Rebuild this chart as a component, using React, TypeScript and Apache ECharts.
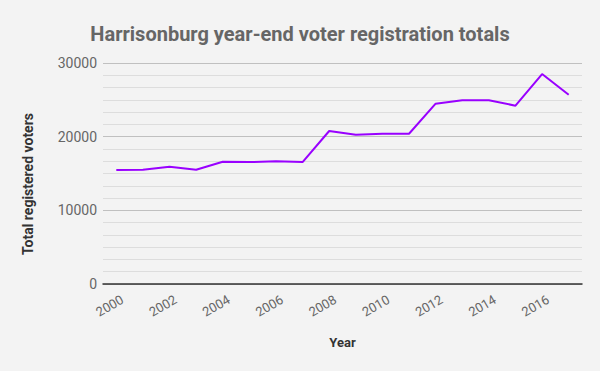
import React, { useEffect, useRef } from "react";
import * as echarts from "echarts";

const years = ["2000","2001","2002","2003","2004","2005","2006","2007","2008","2009","2010","2011","2012","2013","2014","2015","2016","2017"];
const voters = [15480, 15500, 15920, 15500, 16600, 16550, 16650, 16550, 20770, 20270, 20400, 20400, 24480, 24930, 24950, 24210, 28500, 25700];

export default function App() {
  const ref = useRef<HTMLDivElement>(null);
  useEffect(() => {
    document.body.style.margin = "0";
    const chart = echarts.init(ref.current!, null, { renderer: "svg" });
    chart.setOption({
      animation: false,
      backgroundColor: "#f3f3f3",
      title: {
        text: "Harrisonburg year-end voter registration totals",
        left: "center",
        top: 19,
        textStyle: { fontFamily: "Roboto", fontSize: 20, fontWeight: "bold", color: "#666666" },
      },
      grid: { left: 103, right: 18, top: 63, bottom: 87 },
      xAxis: {
        type: "category",
        data: years,
        boundaryGap: true,
        axisLine: { show: true, lineStyle: { color: "#333333", width: 1.5 } },
        axisTick: { show: false },
        axisLabel: {
          interval: 1,
          rotate: 30,
          margin: 18,
          padding: [0, -7, 0, 0],
          color: "#666666",
          fontFamily: "Roboto",
          fontSize: 13,
        },
        name: "Year",
        nameLocation: "middle",
        nameGap: 52,
        nameTextStyle: { fontFamily: "Roboto", fontSize: 13, fontWeight: "bold", color: "#333333", verticalAlign: "top" },
      },
      yAxis: {
        type: "value",
        min: 0,
        max: 30000,
        interval: 10000,
        axisLine: { show: false },
        axisTick: { show: false },
        axisLabel: {
          margin: 6,
          color: "#666666",
          fontFamily: "Roboto",
          fontSize: 14,
          formatter: (v: number) => String(v),
        },
        splitLine: { show: true, lineStyle: { color: "#c0c0c0", width: 1 } },
        minorTick: { show: false, splitNumber: 6 },
        minorSplitLine: { show: true, lineStyle: { color: "#dddddd", width: 1 } },
      },
      graphic: [
        {
          type: "text",
          x: 28,
          y: 184,
          rotation: Math.PI / 2,
          style: {
            text: "Total registered voters",
            fontFamily: "Roboto",
            fontSize: 14,
            fontWeight: "bold",
            fill: "#333333",
            align: "center",
            verticalAlign: "middle",
          },
        },
      ],
      series: [
        {
          type: "line",
          data: voters,
          symbol: "none",
          lineStyle: { color: "#9900ff", width: 2 },
          itemStyle: { color: "#9900ff" },
        },
      ],
    });
    return () => chart.dispose();
  }, []);
  return <div ref={ref} style={{ width: 600, height: 371 }} />;
}
